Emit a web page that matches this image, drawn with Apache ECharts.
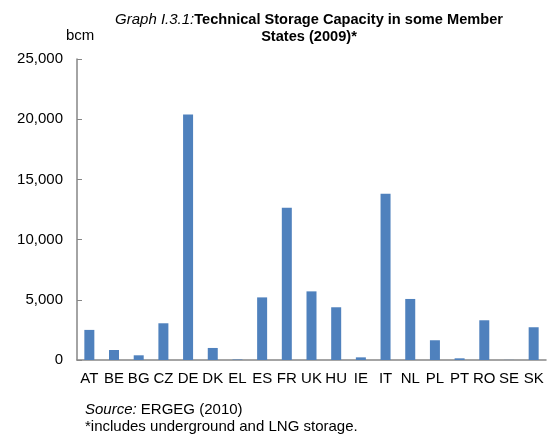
<!DOCTYPE html>
<html>
<head>
<meta charset="utf-8">
<script src="https://cdn.jsdelivr.net/npm/echarts@6/dist/echarts.min.js"></script>
<style>
  html, body { margin: 0; padding: 0; background: #fff; }
  #chart { width: 548px; height: 436px; }
</style>
</head>
<body>
<div id="chart"></div>
<script>
// countries
var countries = ['AT','BE','BG','CZ','DE','DK','EL','ES','FR','UK','HU','IE','IT','NL','PL','PT','RO','SE','SK'];
// technical storage capacity, bcm
var capacity = [2500, 830, 390, 3050, 20400, 1000, 40, 5200, 12650, 5700, 4380, 220, 13800, 5070, 1640, 140, 3300, 10, 2720];
var yTicks = [0, 5000, 10000, 15000, 20000, 25000];

var chart = echarts.init(document.getElementById('chart'));
var font = 'Arial, "Liberation Sans", sans-serif';

chart.setOption({
  animation: false,
  textStyle: { fontFamily: font },
  title: {
    text: '{i|Graph I.3.1:}{b|Technical Storage Capacity in some Member}\n{b|States (2009)*}',
    left: 304,
    top: 6,
    textAlign: 'center',
    textStyle: {
      rich: {
        i: { fontStyle: 'italic', fontWeight: 'normal', fontSize: 15, color: '#000', fontFamily: font, lineHeight: 17 },
        b: { fontWeight: 'bold', fontSize: 14.6, color: '#000', fontFamily: font, lineHeight: 17 }
      }
    }
  },
  graphic: [
    { type: 'text', left: 66, top: 28, style: { text: 'bcm', fontSize: 15, fill: '#000', fontFamily: font } },
    { type: 'text', left: 85, top: 402, style: { text: '{i|Source:} ERGEG (2010)', fontSize: 15, fill: '#000', fontFamily: font,
        rich: { i: { fontStyle: 'italic', fontSize: 15, fontFamily: font } } } },
    { type: 'text', left: 85, top: 419, style: { text: '*includes underground and LNG storage.', fontSize: 15, fill: '#000', fontFamily: font } }
  ],
  grid: { left: 77, right: 2, top: 59, bottom: 76, containLabel: false },
  xAxis: {
    type: 'category',
    data: countries,
    axisLine: { lineStyle: { color: '#868686', width: 1.5 } },
    axisTick: { inside: true, length: 5, alignWithLabel: false, lineStyle: { color: '#868686' } },
    axisLabel: { color: '#000', fontSize: 15, interval: 0, margin: 11, fontFamily: font }
  },
  yAxis: {
    type: 'value',
    min: yTicks[0],
    max: yTicks[yTicks.length - 1],
    interval: 5000,
    axisLine: { show: true, lineStyle: { color: '#868686', width: 1.5 } },
    axisTick: { show: true, inside: true, length: 5, lineStyle: { color: '#868686' } },
    splitLine: { show: false },
    axisLabel: {
      color: '#000', fontSize: 15, margin: 14, fontFamily: font,
      formatter: function (v) { return v.toLocaleString('en-US'); }
    }
  },
  series: [{
    type: 'bar',
    data: capacity,
    barWidth: 10,
    itemStyle: { color: '#4f81bd' }
  }]
});
</script>
</body>
</html>
